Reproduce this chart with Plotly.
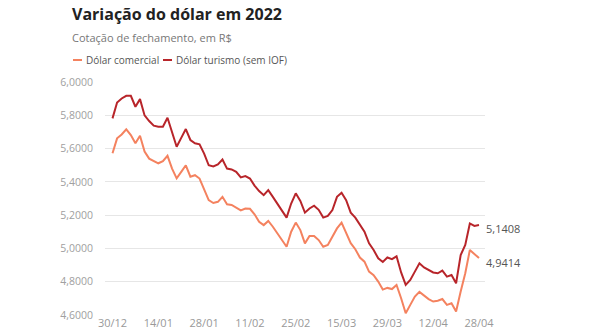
import plotly.graph_objects as go

dates = [
    "30/12",
    "03/01", "04/01", "05/01", "06/01", "07/01", "10/01", "11/01", "12/01", "13/01", "14/01",
    "17/01", "18/01", "19/01", "20/01", "21/01", "24/01", "25/01", "26/01", "27/01", "28/01", "31/01",
    "01/02", "02/02", "03/02", "04/02", "07/02", "08/02", "09/02", "10/02", "11/02",
    "14/02", "15/02", "16/02", "17/02", "18/02", "21/02", "22/02", "23/02", "24/02", "25/02",
    "02/03", "03/03", "04/03", "07/03", "08/03", "09/03", "10/03", "11/03", "14/03", "15/03",
    "16/03", "17/03", "18/03", "21/03", "22/03", "23/03", "24/03", "25/03", "28/03", "29/03",
    "30/03", "31/03", "01/04", "04/04", "05/04", "06/04", "07/04", "08/04", "11/04", "12/04",
    "13/04", "14/04", "18/04", "19/04", "20/04", "22/04", "25/04", "26/04", "27/04", "28/04",
]

comercial = [
    5.572, 5.662, 5.685, 5.716, 5.682, 5.632, 5.678, 5.583, 5.540, 5.527, 5.512,
    5.525, 5.557, 5.480, 5.421, 5.460, 5.500, 5.431, 5.440, 5.420, 5.360,
    5.290, 5.273, 5.280, 5.310, 5.265, 5.261, 5.245, 5.228, 5.240, 5.238,
    5.205, 5.160, 5.140, 5.165, 5.130, 5.090, 5.050, 5.010, 5.100, 5.155,
    5.110, 5.030, 5.075, 5.075, 5.050, 5.010, 5.020, 5.070, 5.120, 5.155,
    5.090, 5.031, 4.995, 4.945, 4.920, 4.860, 4.838, 4.800, 4.752, 4.762,
    4.755, 4.780, 4.700, 4.610, 4.660, 4.710, 4.738, 4.715, 4.695, 4.680,
    4.685, 4.695, 4.660, 4.670, 4.620, 4.740, 4.850, 4.990, 4.965, 4.9414,
]

turismo = [
    5.782, 5.878, 5.902, 5.918, 5.918, 5.852, 5.898, 5.800, 5.766, 5.738, 5.732,
    5.732, 5.786, 5.700, 5.611, 5.665, 5.718, 5.652, 5.632, 5.626, 5.570,
    5.500, 5.493, 5.505, 5.535, 5.480, 5.475, 5.460, 5.427, 5.435, 5.420,
    5.378, 5.345, 5.320, 5.350, 5.310, 5.270, 5.230, 5.185, 5.270, 5.331,
    5.285, 5.215, 5.240, 5.257, 5.232, 5.185, 5.195, 5.230, 5.310, 5.335,
    5.290, 5.215, 5.185, 5.141, 5.100, 5.030, 4.990, 4.940, 4.918, 4.945,
    4.935, 4.952, 4.855, 4.780, 4.810, 4.860, 4.910, 4.885, 4.870, 4.855,
    4.850, 4.866, 4.830, 4.840, 4.790, 4.960, 5.020, 5.150, 5.135, 5.1408,
]

y_ticks = [4.6, 4.8, 5.0, 5.2, 5.4, 5.6, 5.8, 6.0]
x_tick_labels = dates[::10]

C_COM = "#F4825F"
C_TUR = "#B8252A"
FONT = "Open Sans"

fig = go.Figure()
fig.add_trace(go.Scatter(x=dates, y=comercial, mode="lines", name="Dólar comercial",
                         line=dict(color=C_COM, width=2), hoverinfo="skip"))
fig.add_trace(go.Scatter(x=dates, y=turismo, mode="lines", name="Dólar turismo (sem IOF)",
                         line=dict(color=C_TUR, width=2), hoverinfo="skip"))

def fmt(v):
    return f"{v:.4f}".replace(".", ",")

for series, color in ((turismo, C_TUR), (comercial, C_COM)):
    fig.add_annotation(x=dates[-1], y=series[-1], text=fmt(series[-1]), showarrow=False,
                       xanchor="left", yanchor="middle", xshift=5, yshift=-4,
                       font=dict(family=FONT, size=11, color="#555555"))

L = 380.0
H = 233.0
def px_x(p):
    return (p - 105) / L
def px_y(p):
    return (315 - p) / H

# header texts
fig.add_annotation(xref="paper", yref="paper", x=px_x(70), y=px_y(14), text="<b>Variação do dólar em 2022</b>",
                   showarrow=False, xanchor="left", yanchor="middle",
                   font=dict(family=FONT, size=16, color="#222222"))
fig.add_annotation(xref="paper", yref="paper", x=px_x(70), y=px_y(37), text="Cotação de fechamento, em R$",
                   showarrow=False, xanchor="left", yanchor="middle",
                   font=dict(family=FONT, size=11, color="#777777"))
# legend
for x0, x1, color, tx, label in ((73, 82, C_COM, 86, "Dólar comercial"),
                                 (163, 172, C_TUR, 176, "Dólar turismo (sem IOF)")):
    fig.add_shape(type="line", xref="paper", yref="paper", x0=px_x(x0), x1=px_x(x1),
                  y0=px_y(60), y1=px_y(60), line=dict(color=color, width=2))
    fig.add_annotation(xref="paper", yref="paper", x=px_x(tx), y=px_y(60), text=label,
                       showarrow=False, xanchor="left", yanchor="middle", xshift=-2,
                       font=dict(family=FONT, size=10, color="#555555"))

fig.update_layout(
    width=590, height=330,
    margin=dict(l=105, r=105, t=82, b=15),
    paper_bgcolor="white", plot_bgcolor="white",
    showlegend=False,
    separators=",.",
    font=dict(family=FONT, color="#999999"),
)
fig.update_xaxes(type="category", range=[-1.64, 81.31], tickvals=x_tick_labels, ticktext=x_tick_labels,
                 showgrid=False, showline=False, zeroline=False, ticks="",
                 tickfont=dict(family=FONT, size=11, color="#999999"), automargin=False)
fig.update_yaxes(range=[4.599, 6.001], tickvals=y_ticks, tickformat=".4f",
                 showgrid=True, gridcolor="#E6E6E6", gridwidth=1, zeroline=False, showline=False,
                 ticks="", ticklabelstandoff=11,
                 tickfont=dict(family=FONT, size=10.5, color="#A0A0A0"), automargin=False)

fig.write_html("out.html")
